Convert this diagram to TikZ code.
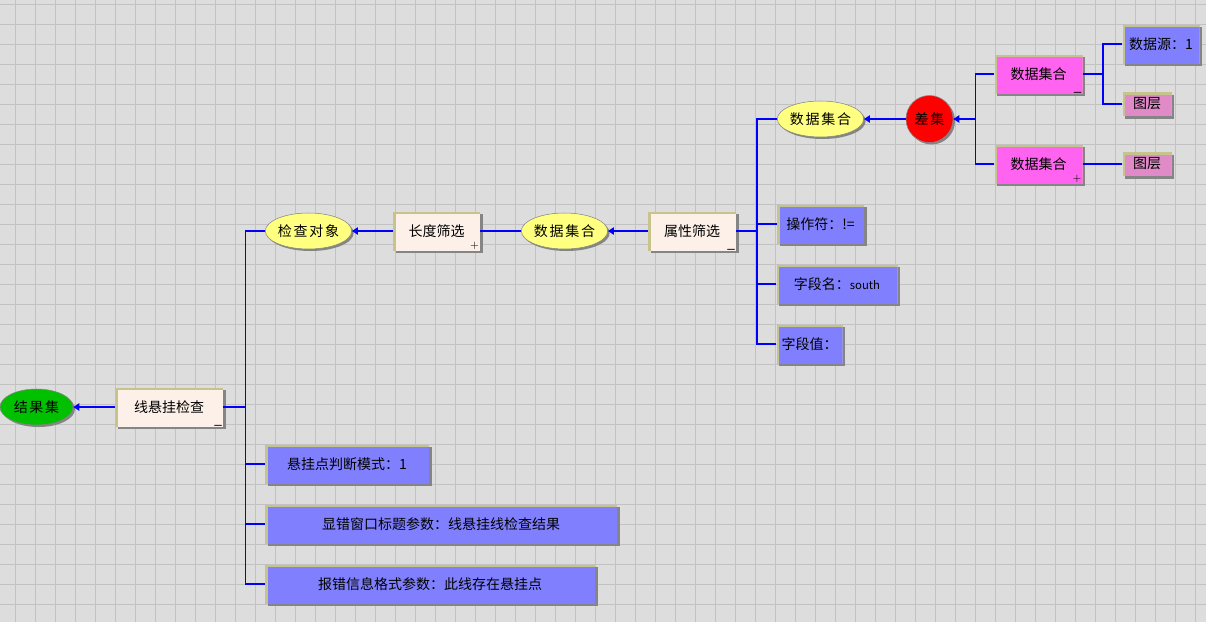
\documentclass[tikz,border=0pt]{standalone}
\usepackage{fontspec}
\usepackage{xcolor}
\usepackage{tikz}
\usetikzlibrary{arrows.meta, shapes.geometric, shadows}
\newfontfamily\cjk{Noto Sans CJK SC}
\newfontfamily\cjkwide[LetterSpace=12]{Noto Sans CJK SC}
\definecolor{GridBack}{HTML}{DDDDDD}
\definecolor{GridLine}{HTML}{C2C2C2}
\definecolor{LinkBlue}{HTML}{0000FF}
\definecolor{FrameOlive}{HTML}{C4C48C}
\definecolor{ShadowGray}{HTML}{858585}
\definecolor{ToolFill}{HTML}{FDF0E8}
\definecolor{ParamFill}{HTML}{8080FF}
\definecolor{SetFill}{HTML}{FF63F0}
\definecolor{LayerFill}{HTML}{E08AC8}
\definecolor{DataYellow}{HTML}{FFFF80}
\definecolor{ResultGreen}{HTML}{00C000}
\definecolor{DiffRed}{HTML}{FF0000}
\tikzset{
  pxw/.style={minimum width=#1*0.75pt},
  pxh/.style={minimum height=#1*0.75pt},
  flatbox/.style={rectangle, fill=FrameOlive, inner sep=0pt, pxh=39,
                  font=\cjk\fontsize{10.5}{12}\selectfont, align=center,
                  path picture={\fill[#1] ([xshift=2pt]path picture bounding box.south west)
                                rectangle ([yshift=-2pt]path picture bounding box.north east);},
                  drop shadow={shadow xshift=2pt, shadow yshift=-2pt, fill=ShadowGray, opacity=1}},
  toolbox/.style={flatbox=ToolFill},
  parambox/.style={flatbox=ParamFill},
  setbox/.style={flatbox=SetFill},
  layerbox/.style={flatbox=LayerFill, pxh=24},
  dataset/.style={ellipse, draw=ShadowGray, fill=DataYellow, inner sep=0pt, pxh=36,
                  font=\cjkwide\fontsize{10.5}{12}\selectfont,
                  drop shadow={shadow xshift=1.5pt, shadow yshift=-1.5pt, fill=ShadowGray, opacity=1}},
  resultset/.style={dataset, fill=ResultGreen},
  diffop/.style={circle, draw=ShadowGray, fill=DiffRed, inner sep=0pt, pxw=47,
                 font=\cjkwide\fontsize{10.5}{12}\selectfont,
                 drop shadow={shadow xshift=1.5pt, shadow yshift=-1.5pt, fill=ShadowGray, opacity=1}},
  foldsign/.style={anchor=south east, inner xsep=0.8pt, inner ysep=0.3pt, font=\sffamily\footnotesize},
  gridline/.style={draw=GridLine, line width=0.75pt},
  link/.style={draw=LinkBlue, line width=1pt},
  flow/.style={link, -{Triangle[length=4.5pt, width=5.5pt]}}
}

\begin{document}
\begin{tikzpicture}[x=0.75pt, y=-0.75pt]
  \useasboundingbox (0,0) rectangle (1206,622);
  \fill[GridBack] (0,0) rectangle (1206,622);
  \foreach \gx in {15,35,...,1195} \draw[gridline] (\gx,0) -- (\gx,622);
  \foreach \gy in {4.5,24.5,...,620} \draw[gridline] (0,\gy) -- (1206,\gy);

  \node[resultset, pxw=73] (jg)    at (36.5,407) {结果集};
  \node[toolbox, pxw=108, label={[foldsign]south east:\_}] (xgjc) at (169,407) {线悬挂检查};
  \node[dataset, pxw=86]   (jcdx)  at (308.5,231) {检查对象};
  \node[toolbox, pxw=87, label={[foldsign]south east:+}] (cdsx) at (436.5,231) {长度筛选};
  \node[dataset, pxw=86]   (sjjh1) at (564.5,231) {数据集合};
  \node[toolbox, pxw=88, label={[foldsign]south east:\_}] (sxsx) at (692,231) {属性筛选};
  \node[dataset, pxw=86]   (sjjh2) at (820.5,119) {数据集合};
  \node[diffop]            (cj)    at (929.5,119) {差集};
  \node[setbox, pxw=88, label={[foldsign]south east:\_}] (pk1) at (1038.5,74) {数据集合};
  \node[setbox, pxw=88, label={[foldsign]south east:+}]  (pk2) at (1038.5,164) {数据集合};
  \node[parambox, pxw=77]  (sjy)   at (1161,44) {数据源：1};
  \node[layerbox, pxw=49]  (tc1)   at (1147,104) {图层};
  \node[layerbox, pxw=49]  (tc2)   at (1147,164) {图层};
  \node[parambox, pxw=87]  (czf)   at (820.5,224) {操作符：!=};
  \node[parambox, pxw=121] (zdm)   at (837,284) {字段名：{\fontsize{8.5}{10}\selectfont south}};
  \node[parambox, pxw=66]  (zdz)   at (809.5,344) {字段值：};
  \node[parambox, pxw=164] (p1)    at (347,464) {悬挂点判断模式：1};
  \node[parambox, pxw=352] (p2)    at (441,524) {显错窗口标题参数：线悬挂线检查结果};
  \node[parambox, pxw=330] (p3)    at (430,584) {报错信息格式参数：此线存在悬挂点};

  \coordinate (tA) at (245.5,407);
  \coordinate (tB) at (757,231);
  \coordinate (tC) at (975.5,119);
  \coordinate (tD) at (1103,74);

  \draw[flow] (xgjc.west) -- (jg.east);
  \draw[link] (xgjc.east) -- (tA);
  \foreach \kid in {jcdx, p1, p2, p3} \draw[link] (tA) |- (\kid.west);
  \draw[flow] (cdsx.west) -- (jcdx.east);
  \draw[link] (cdsx.east) -- (sjjh1.west);
  \draw[flow] (sxsx.west) -- (sjjh1.east);
  \draw[link] (sxsx.east) -- (tB);
  \foreach \kid in {sjjh2, czf, zdm, zdz} \draw[link] (tB) |- (\kid.west);
  \draw[flow] (cj.west) -- (sjjh2.east);
  \draw[flow] (tC) -- (cj.east);
  \foreach \kid in {pk1, pk2} \draw[link] (tC) |- (\kid.west);
  \draw[link] (pk1.east) -- (tD);
  \foreach \kid in {sjy, tc1} \draw[link] (tD) |- (\kid.west);
  \draw[link] (pk2.east) -- (tc2.west);
\end{tikzpicture}
\end{document}
